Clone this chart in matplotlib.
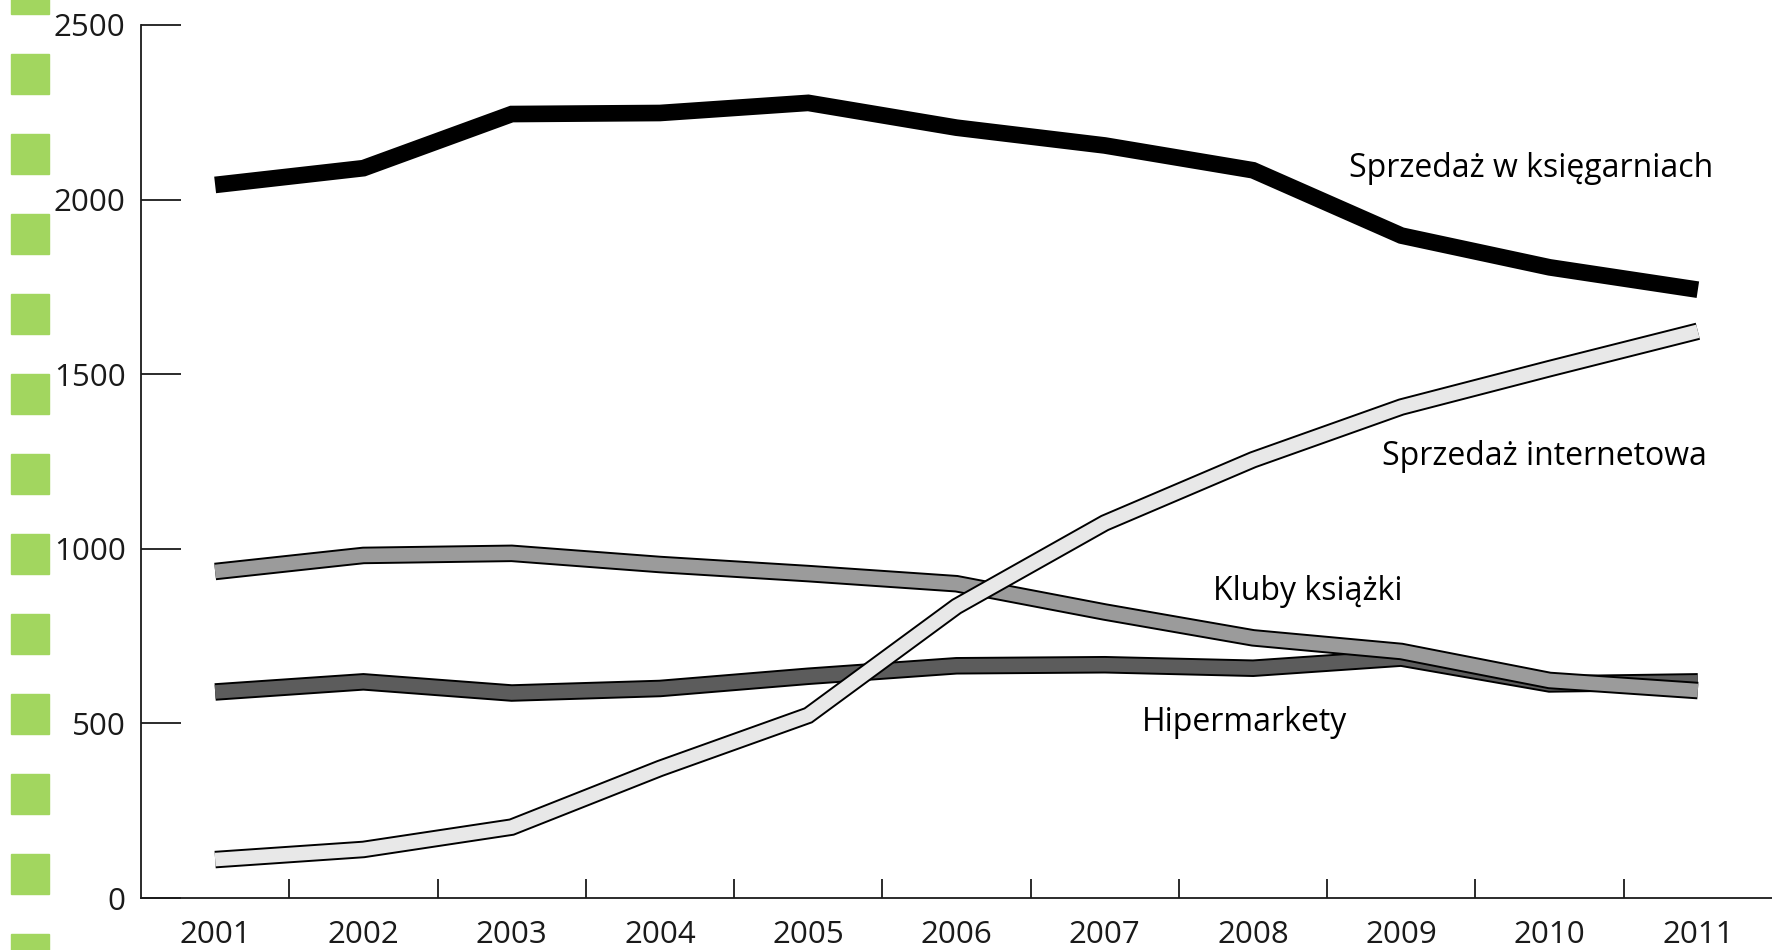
import matplotlib
matplotlib.use("Agg")
import matplotlib.pyplot as plt
import matplotlib.patheffects as pe
from matplotlib.patches import Rectangle
import numpy as np

years = ["2001", "2002", "2003", "2004", "2005", "2006",
         "2007", "2008", "2009", "2010", "2011"]

ksiegarnie = [2042, 2090, 2245, 2248, 2277, 2206, 2155, 2084, 1897, 1806, 1742]
internet = [110, 139, 203, 371, 523, 835, 1074, 1255, 1406, 1516, 1623]
kluby = [935, 981, 987, 955, 929, 900, 819, 745, 706, 623, 594]
hipermarkety = [590, 619, 587, 600, 635, 665, 668, 658, 687, 613, 619]

yticks = [0, 500, 1000, 1500, 2000, 2500]

plt.rcParams['font.family'] = ['Open Sans', 'DejaVu Sans']

W, H = 1772, 950
fig = plt.figure(figsize=(W / 100, H / 100), dpi=100)
fig.patch.set_facecolor("white")

# green dashes along the left edge
for top in range(-26, H, 80):
    fig.patches.append(Rectangle((11 / W, 1 - (top + 40) / H), 38 / W, 40 / H,
                                 transform=fig.transFigure, color="#a2d65f",
                                 zorder=0))

ax = fig.add_axes([141 / W, 1 - 898 / H, 1 - 141 / W, (898 - 25) / H])
x = np.arange(len(years))

lw = 9.8
def outlined(y, color, z):
    ax.plot(x, y, color=color, lw=lw, solid_capstyle="butt",
            solid_joinstyle="miter", zorder=z,
            path_effects=[pe.Stroke(linewidth=lw + 2.8, foreground="black"),
                          pe.Normal()])

outlined(hipermarkety, "#5c5c5c", 2)
outlined(kluby, "#9b9b9b", 3)
outlined(internet, "#e8e8e8", 4)
ax.plot(x, ksiegarnie, color="black", lw=12, solid_capstyle="butt",
        solid_joinstyle="miter", zorder=5)

fs = 23
ax.text(7.645, 2088, "Sprzedaż w księgarniach", fontsize=fs, va="center", ha="left")
ax.text(7.87, 1265, "Sprzedaż internetowa", fontsize=fs, va="center", ha="left")
ax.text(6.73, 877, "Kluby książki", fontsize=fs, va="center", ha="left")
ax.text(6.25, 502, "Hipermarkety", fontsize=fs, va="center", ha="left")

ax.set_xlim(-0.5, 10.5)
ax.set_ylim(0, 2500)
ax.set_facecolor("none")
for s in ["top", "right"]:
    ax.spines[s].set_visible(False)
for s in ["left", "bottom"]:
    ax.spines[s].set_linewidth(1.3)
    ax.spines[s].set_color("#1a1a1a")

ax.set_yticks(yticks)
ax.set_yticklabels([str(v) for v in yticks])
ax.tick_params(axis="y", direction="in", length=29, width=1.3, pad=11,
               labelsize=22.5, colors="#1a1a1a")
ax.set_xticks(x)
ax.set_xticklabels(years)
ax.tick_params(axis="x", which="major", length=0, pad=16, labelsize=22.5,
               colors="#1a1a1a")
ax.set_xticks(x[:-1] + 0.5, minor=True)
ax.tick_params(axis="x", which="minor", direction="in", length=14, width=1.3,
               colors="#1a1a1a")

fig.savefig("out.png", dpi=100, facecolor="white")
